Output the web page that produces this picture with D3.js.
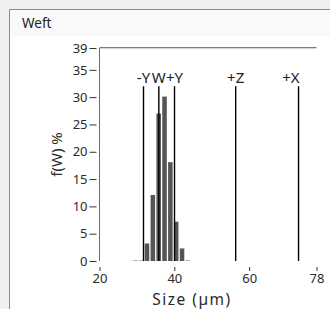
<!DOCTYPE html>
<html>
<head>
<meta charset="utf-8">
<script src="https://cdn.jsdelivr.net/npm/d3@7"></script>
<style>
  html, body { margin: 0; background: #f0f0f0; overflow: hidden; }
  svg { display: block; overflow: hidden; font-family: "Noto Sans", "Open Sans", sans-serif; }
</style>
</head>
<body>
<svg id="chart" width="330" height="309"></svg>
<script>
// histogram bins (centre, um) and weight fraction %
const binCenters = [29.58, 31.14, 32.70, 34.26, 35.82, 37.38, 38.94, 40.50, 42.06, 43.62];
const binValues  = [0, 0, 3.2, 12.1, 27.0, 30.1, 18.1, 7.2, 2.3, 0];
const binWidth = 1.56;

// marker lines
const markerNames = ["-Y", "W", "+Y", "+Z", "+X"];
const markerSizes = [31.76, 35.86, 40.05, 56.4, 73.2];
const markerTop = 32;

const xTicks = [20, 40, 60, 78];
const yTicks = [0, 5, 10, 15, 20, 25, 30, 35, 39];

const svg = d3.select("#chart");

// panel (left and top edges only, the rest runs off the window)
svg.append("rect")
  .attr("x", 10).attr("y", 10)
  .attr("width", 320).attr("height", 299)
  .attr("fill", "#ffffff");
svg.append("rect")
  .attr("x", 10).attr("y", 10)
  .attr("width", 320).attr("height", 26)
  .attr("fill", "#f9f9f9");
svg.append("path")
  .attr("d", "M9.5,309V9.5H330")
  .attr("fill", "none")
  .attr("stroke", "#8c8c8c");
svg.append("text")
  .attr("x", 22).attr("y", 28)
  .attr("font-size", 13.5)
  .attr("fill", "#222")
  .text("Weft");

const x = d3.scaleLinear().domain([20, 78]).range([99.5, 316.5]);
const y = d3.scaleLinear().domain([0, 39]).range([261, 48]);

// plot frame: top and left
svg.append("line")
  .attr("x1", x(20)).attr("x2", x(78))
  .attr("y1", y(39) - 0.5).attr("y2", y(39) - 0.5)
  .attr("stroke", "#7a7a7a");
svg.append("line")
  .attr("x1", x(20)).attr("x2", x(78))
  .attr("y1", y(39) + 0.5).attr("y2", y(39) + 0.5)
  .attr("stroke", "#d4d4d4");
svg.append("line")
  .attr("x1", x(20)).attr("x2", x(20))
  .attr("y1", y(39)).attr("y2", y(0))
  .attr("stroke", "#6a6a6a");

// y axis
const yAxis = d3.axisLeft(y).tickValues(yTicks).tickSize(7).tickPadding(2);
const gy = svg.append("g").attr("transform", "translate(" + (x(20) - 3) + ",0)").call(yAxis);
gy.select(".domain").remove();
gy.selectAll(".tick line").attr("stroke", "#333");
gy.selectAll(".tick text").attr("font-size", 13).attr("fill", "#2a2a2a")
  .attr("font-family", "Noto Sans, sans-serif");

// x axis
const xAxis = d3.axisBottom(x).tickValues(xTicks).tickSize(4).tickPadding(3);
const gx = svg.append("g").attr("transform", "translate(0," + (y(0) + 6) + ")").call(xAxis);
gx.select(".domain").remove();
gx.selectAll(".tick line").attr("stroke", "#333");
gx.selectAll(".tick text").attr("font-size", 13).attr("fill", "#2a2a2a")
  .attr("font-family", "Noto Sans, sans-serif");

// bars
const bw = x(20 + binWidth) - x(20) - 1.3;
svg.append("g").selectAll("rect")
  .data(binCenters.map((c, i) => ({ c: c, v: binValues[i] })))
  .join("rect")
  .attr("x", d => x(d.c) - bw / 2)
  .attr("width", bw)
  .attr("y", d => d.v > 0 ? y(d.v) : y(0) - 1)
  .attr("height", d => d.v > 0 ? y(0) - y(d.v) : 1)
  .attr("fill", d => d.v > 0 ? "#555555" : "#b5b5b5");

// marker lines + labels
const markers = markerNames.map((n, i) => ({ name: n, v: markerSizes[i] }));
svg.append("g").selectAll("line")
  .data(markers)
  .join("line")
  .attr("x1", d => x(d.v)).attr("x2", d => x(d.v))
  .attr("y1", y(markerTop)).attr("y2", y(0))
  .attr("stroke", "#000")
  .attr("stroke-width", 1.4);
svg.append("g").selectAll("text")
  .data(markers)
  .join("text")
  .attr("x", (d, i) => i === markers.length - 1 ? x(d.v) + 1 : x(d.v))
  .attr("y", y(markerTop) - 3)
  .attr("text-anchor", (d, i) => i === markers.length - 1 ? "end" : "middle")
  .attr("font-size", 15)
  .attr("fill", "#222")
  .text(d => d.name);

// axis titles
svg.append("text")
  .attr("x", 192).attr("y", 305)
  .attr("text-anchor", "middle")
  .attr("font-size", 15.5)
  .attr("letter-spacing", 1.5)
  .attr("fill", "#2a2a2a")
  .text("Size (µm)");
svg.append("text")
  .attr("transform", "translate(62," + ((y(0) + y(39)) / 2) + ") rotate(-90)")
  .attr("text-anchor", "middle")
  .attr("font-size", 15)
  .attr("fill", "#2a2a2a")
  .text("f(W) %");
</script>
</body>
</html>
